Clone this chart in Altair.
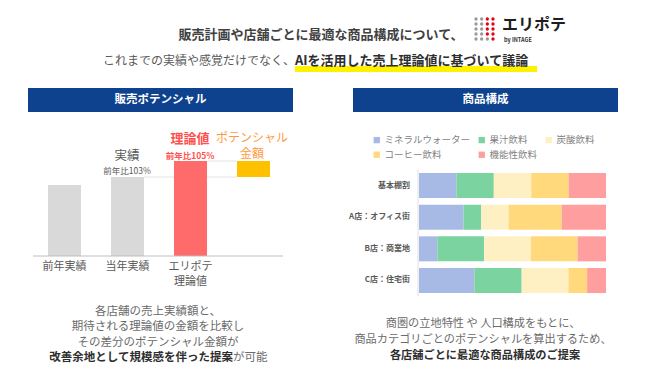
import altair as alt
import pandas as pd

FONT = "Noto Sans CJK JP"

# ---------------- text content ----------------
title_line1 = "販売計画や店舗ごとに最適な商品構成について、"
title_line2a = "これまでの実績や感覚だけでなく、"
title_line2b = "AIを活用した売上理論値に基づいて議論"
logo_text = "エリポテ"
logo_sub = "by INTAGE"
left_title = "販売ポテンシャル"
right_title = "商品構成"

left_notes = ["各店舗の売上実績額と、", "期待される理論値の金額を比較し", "その差分のポテンシャル金額が"]
left_note_bold = "改善余地として規模感を伴った提案"
left_note_tail = "が可能"
right_notes = ["商圏の立地特性 や 人口構成をもとに、", "商品カテゴリごとのポテンシャルを算出するため、"]
right_note_bold = "各店舗ごとに最適な商品構成のご提案"

# ---------------- left chart data ----------------
bar_cats = ["前年実績", "当年実績", "エリポテ理論値", "ポテンシャル金額"]
bar_label1 = ["前年実績", "当年実績", "エリポテ", ""]
bar_label2 = ["", "", "理論値", ""]
bar_low = [0, 0, 0, 79]
bar_high = [71, 79, 95, 95]
bar_colors = ["#D9D9D9", "#D9D9D9", "#FF6B6B", "#FFC000"]

# ---------------- right chart data ----------------
stores = ["基本棚割", "A店：オフィス街", "B店：商業地", "C店：住宅街"]
categories = ["ミネラルウォーター", "果汁飲料", "炭酸飲料", "コーヒー飲料", "機能性飲料"]
share_base = [20, 20, 20, 20, 20]
share_a = [23.8, 9.5, 14.6, 28.4, 23.7]
share_b = [9.8, 25.0, 25.0, 25.0, 15.2]
share_c = [29.6, 25.3, 25.0, 10.0, 10.1]
cat_colors = ["#A7B9E5", "#7BD3A0", "#FFF0C4", "#FFD97C", "#FF9E9E"]

# logo dots (col, row, colour group)
logo_col = [0, 1, 2, 3, 0, 1, 2, 3, 0, 1, 2, 3, 0, 1, 2, 3, 0, 1, 2, 3]
logo_row = [0, 0, 0, 0, 1, 1, 1, 1, 2, 2, 2, 2, 3, 3, 3, 3, 4, 4, 4, 4]
logo_red = ["g", "g", "r", "r", "g", "g", "r", "r", "g", "g", "r", "r", "g", "g", "r", "r", "g", "g", "g", "r"]

O = 8  # page margin


def P(v):
    return v - O


def text(s, x, y, size, color, weight="normal", align="center", baseline="middle"):
    return alt.Chart(pd.DataFrame({"t": [s]})).mark_text(
        font=FONT, fontSize=size, color=color, fontWeight=weight,
        align=align, baseline=baseline,
    ).encode(x=alt.value(P(x)), y=alt.value(P(y)), text="t:N")


def rect(x1, y1, x2, y2, color):
    return alt.Chart(pd.DataFrame({"a": [0]})).mark_rect(color=color).encode(
        x=alt.value(P(x1)), x2=alt.value(P(x2)), y=alt.value(P(y1)), y2=alt.value(P(y2))
    )


layers = []

# ---------- header ----------
layers.append(rect(295, 66, 537, 72, "#FFF200"))
layers.append(text(title_line1, 321, 35, 13, "#404040", "bold"))
layers.append(text(title_line2a, 295, 61, 12, "#595959", align="right"))
layers.append(text(title_line2b, 295, 61, 13, "#2E2E2E", "bold", align="left"))

logo_df = pd.DataFrame({"c": logo_col, "r": logo_row, "k": logo_red})
layers.append(
    alt.Chart(logo_df).mark_circle(size=11, opacity=1).encode(
        x=alt.X("c:Q", scale=alt.Scale(domain=[0, 3], range=[P(476), P(493)]), axis=None),
        y=alt.Y("r:Q", scale=alt.Scale(domain=[0, 4], range=[P(19), P(39)]), axis=None),
        color=alt.Color("k:N", scale=alt.Scale(domain=["g", "r"], range=["#9A9A9A", "#E60012"]), legend=None),
    )
)
layers.append(text(logo_text, 502, 25, 16, "#1E1E1E", "bold", align="left"))
layers.append(text(logo_sub, 504, 39.5, 5.5, "#333333", "bold", align="left"))

# ---------- panel titles ----------
layers.append(rect(28, 88, 293, 112, "#0E428E"))
layers.append(text(left_title, 160.5, 100, 11.5, "white", "bold"))
layers.append(rect(353, 88, 618, 112, "#0E428E"))
layers.append(text(right_title, 485.5, 100, 11.5, "white", "bold"))

# ---------- left bar chart ----------
xL_scale = alt.Scale(domain=bar_cats, range=[P(33), P(285)], paddingInner=0.476, paddingOuter=0.238)
yL_scale = alt.Scale(domain=[0, 100], range=[P(256), P(156)])

conn_df = pd.DataFrame({"v": [bar_high[1]]})
layers.append(
    alt.Chart(conn_df).mark_rule(color="#E3E3E3", strokeWidth=1).encode(
        y=alt.Y("v:Q", scale=yL_scale, axis=None), x=alt.value(P(144)), x2=alt.value(P(237))
    )
)
conn_df2 = pd.DataFrame({"v": [bar_high[2]]})
layers.append(
    alt.Chart(conn_df2).mark_rule(color="#E3E3E3", strokeWidth=1).encode(
        y=alt.Y("v:Q", scale=yL_scale, axis=None), x=alt.value(P(207)), x2=alt.value(P(237))
    )
)

left_df = pd.DataFrame({"cat": bar_cats, "low": bar_low, "high": bar_high,
                        "label1": bar_label1, "label2": bar_label2})
layers.append(
    alt.Chart(left_df).mark_bar().encode(
        x=alt.X("cat:N", sort=bar_cats, scale=xL_scale, axis=None),
        y=alt.Y("high:Q", scale=yL_scale, axis=None),
        y2="low:Q",
        color=alt.Color("cat:N", scale=alt.Scale(domain=bar_cats, range=bar_colors), legend=None),
    )
)
layers.append(
    alt.Chart(pd.DataFrame({"a": [0]})).mark_rule(color="#BFBFBF", strokeWidth=1).encode(
        x=alt.value(P(33)), x2=alt.value(P(283)), y=alt.value(P(256))
    )
)
for field, ypos in [("label1", 267), ("label2", 282)]:
    layers.append(
        alt.Chart(left_df).mark_text(
            font=FONT, fontSize=11, color="#595959", baseline="middle"
        ).encode(
            x=alt.X("cat:N", sort=bar_cats, scale=xL_scale, axis=None, bandPosition=0.5),
            y=alt.value(P(ypos)),
            text=f"{field}:N",
        )
    )

layers.append(text("実績", 127, 156, 12.5, "#595959"))
layers.append(text("前年比103%", 127, 171, 8.5, "#595959"))
layers.append(text("理論値", 190, 139, 13, "#FF5050", "bold"))
layers.append(text("前年比105%", 190, 156, 8.5, "#FF5050", "bold"))
layers.append(text("ポテンシャル", 252, 138, 12, "#FF9A3C"))
layers.append(text("金額", 252, 154, 12, "#FF9A3C"))

# ---------- right stacked bar chart ----------
rows = []
for s, vals in zip(stores, [share_base, share_a, share_b, share_c]):
    for i, (c, v) in enumerate(zip(categories, vals)):
        rows.append({"store": s, "category": c, "share": v, "idx": i})
right_df = pd.DataFrame(rows)

yR_scale = alt.Scale(domain=stores, range=[P(169.8), P(296.2)], paddingInner=0.21, paddingOuter=0.1)

layers.append(
    alt.Chart(pd.DataFrame({"a": [0]})).mark_rule(color="#E0E0E0", strokeWidth=1).encode(
        x=alt.value(P(418)), y=alt.value(P(170)), y2=alt.value(P(296))
    )
)
layers.append(
    alt.Chart(right_df).mark_bar().encode(
        x=alt.X("share:Q", stack="normalize", scale=alt.Scale(domain=[0, 1], range=[P(419), P(606)]), axis=None),
        y=alt.Y("store:N", sort=stores, scale=yR_scale, axis=None),
        color=alt.Color(
            "category:N",
            scale=alt.Scale(domain=categories, range=cat_colors),
            legend=alt.Legend(
                orient="none", legendX=P(372), legendY=P(135), columns=3, title=None,
                direction="horizontal",
                symbolType="square", symbolSize=40, symbolStrokeWidth=0,
                labelFont=FONT, labelFontSize=9.5, labelColor="#7F7F7F",
                columnPadding=6, rowPadding=4, padding=0, labelOffset=3, gridAlign="each",
            ),
        ),
        order=alt.Order("idx:Q"),
    )
)
store_df = pd.DataFrame({"store": stores})
layers.append(
    alt.Chart(store_df).mark_text(
        font=FONT, fontSize=8, fontWeight="bold", color="#595959", align="right", baseline="middle"
    ).encode(
        y=alt.Y("store:N", sort=stores, scale=yR_scale, axis=None, bandPosition=0.5),
        x=alt.value(P(410)),
        text="store:N",
    )
)

# ---------- bottom notes ----------
for i, s in enumerate(left_notes):
    layers.append(text(s, 158, 312 + 15.3 * i, 11.5, "#6B6B6B"))
layers.append(text(left_note_bold, 233, 358, 11.5, "#2E2E2E", "bold", align="right"))
layers.append(text(left_note_tail, 233, 358, 11.5, "#6B6B6B", align="left"))

for i, s in enumerate(right_notes):
    layers.append(text(s, 483, 324 + 16 * i, 11.2, "#6B6B6B"))
layers.append(text(right_note_bold, 485, 356, 11.2, "#2E2E2E", "bold"))

chart = (
    alt.layer(*layers)
    .resolve_scale(x="independent", y="independent", color="independent")
    .properties(width=634, height=366, padding=0, autosize=alt.AutoSizeParams(type="none"))
    .configure_view(stroke=None)
)

chart.save("out.html", embed_options={"renderer": "svg", "actions": False})
